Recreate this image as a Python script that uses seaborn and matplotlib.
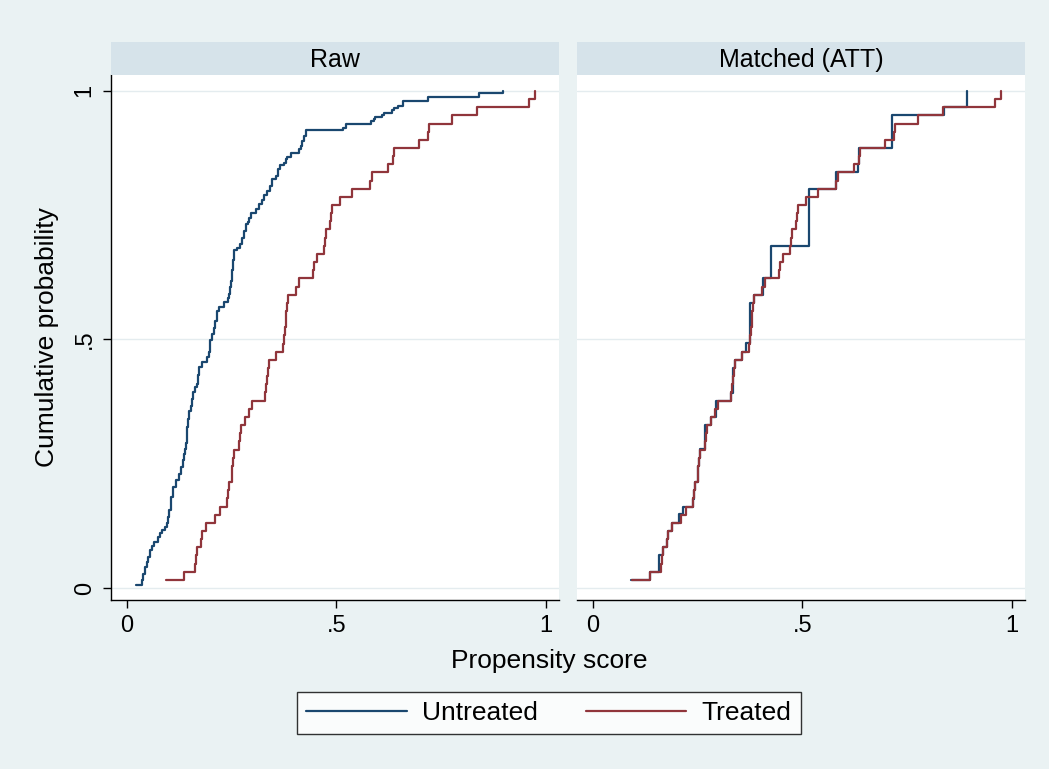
import numpy as np
import pandas as pd
import matplotlib
matplotlib.use("Agg")
import matplotlib.pyplot as plt
import seaborn as sns

# ---------------- data ----------------
panels = ["Raw", "Matched (ATT)"]
series = ["Untreated", "Treated"]
x_ticks = [0, 0.5, 1]
x_ticklabels = ["0", ".5", "1"]
y_ticks = [0, 0.5, 1]
y_ticklabels = ["0", ".5", "1"]

# propensity scores of the 61 treated units
treated_ps = [0.093, 0.138, 0.163, 0.1655, 0.167, 0.178, 0.181, 0.1885, 0.210, 0.223,
              0.239, 0.242, 0.245, 0.2505, 0.2515, 0.253, 0.256, 0.268, 0.2705, 0.272,
              0.2816, 0.292, 0.300, 0.3294, 0.3317, 0.3357, 0.3373, 0.3397, 0.3572, 0.3739,
              0.3765, 0.3779, 0.3795, 0.3811, 0.3827, 0.3858, 0.4033, 0.4113, 0.4455, 0.4471,
              0.4551, 0.4718, 0.4733, 0.4749, 0.4853, 0.4877, 0.4909, 0.5092, 0.5386, 0.5807,
              0.5847, 0.6237, 0.6341, 0.6380, 0.6977, 0.7192, 0.7208, 0.7757, 0.8353, 0.9602,
              0.9745]

# raw untreated cumulative distribution (score, cumulative probability)
raw_untreated_ps = [0.022, 0.036, 0.040, 0.044, 0.048, 0.052, 0.057, 0.061, 0.065, 0.076,
                    0.080, 0.0835, 0.0915, 0.0955, 0.099, 0.102, 0.105, 0.107, 0.111, 0.119,
                    0.126, 0.131, 0.134, 0.137, 0.140, 0.141, 0.143, 0.145, 0.147, 0.149,
                    0.154, 0.157, 0.159, 0.163, 0.167, 0.170, 0.1725, 0.181, 0.193, 0.196,
                    0.198, 0.200, 0.2045, 0.208, 0.212, 0.2165, 0.220, 0.232, 0.242, 0.244,
                    0.246, 0.248, 0.252, 0.254, 0.256, 0.264, 0.270, 0.276, 0.280, 0.284,
                    0.290, 0.293, 0.296, 0.308, 0.316, 0.322, 0.328, 0.336, 0.341, 0.348,
                    0.356, 0.360, 0.366, 0.3755, 0.3795, 0.3835, 0.391, 0.411, 0.415, 0.419,
                    0.423, 0.429, 0.517, 0.5227, 0.584, 0.589, 0.592, 0.610, 0.613, 0.634,
                    0.638, 0.646, 0.660, 0.719, 0.841, 0.897]
raw_untreated_cum = [0.007, 0.016, 0.028, 0.043, 0.052, 0.063, 0.076, 0.085, 0.093, 0.102,
                     0.110, 0.116, 0.123, 0.130, 0.143, 0.157, 0.170, 0.183, 0.203, 0.217,
                     0.230, 0.244, 0.257, 0.270, 0.280, 0.291, 0.307, 0.324, 0.341, 0.357,
                     0.367, 0.381, 0.394, 0.404, 0.411, 0.428, 0.444, 0.454, 0.464, 0.474,
                     0.486, 0.498, 0.511, 0.524, 0.538, 0.558, 0.565, 0.575, 0.584, 0.592,
                     0.605, 0.618, 0.639, 0.660, 0.679, 0.684, 0.692, 0.705, 0.719, 0.732,
                     0.736, 0.745, 0.754, 0.763, 0.772, 0.781, 0.790, 0.799, 0.809, 0.823,
                     0.829, 0.843, 0.850, 0.856, 0.863, 0.867, 0.876, 0.883, 0.890, 0.900,
                     0.910, 0.921, 0.926, 0.934, 0.939, 0.943, 0.948, 0.952, 0.955, 0.961,
                     0.966, 0.970, 0.980, 0.988, 0.995, 1.000]

# matched (ATT-weighted) untreated cumulative distribution
matched_untreated_ps = [0.092, 0.138, 0.1595, 0.167, 0.178, 0.181, 0.1885, 0.207, 0.2167, 0.2389,
                        0.2418, 0.245, 0.251, 0.253, 0.256, 0.269, 0.2816, 0.2944, 0.3294, 0.334,
                        0.3397, 0.3572, 0.366, 0.3746, 0.3858, 0.4067, 0.4254, 0.5167, 0.580, 0.6317,
                        0.6357, 0.715, 0.838, 0.8937]
matched_untreated_cum = [0.016, 0.033, 0.066, 0.082, 0.098, 0.115, 0.131, 0.148, 0.164, 0.180,
                         0.197, 0.213, 0.246, 0.262, 0.279, 0.328, 0.344, 0.377, 0.393, 0.443,
                         0.459, 0.475, 0.492, 0.574, 0.590, 0.623, 0.689, 0.803, 0.836, 0.852,
                         0.885, 0.951, 0.967, 1.000]

# ---------------- build tidy table ----------------
t_sorted = np.sort(np.asarray(treated_ps))
t_cum = np.arange(1, len(t_sorted) + 1) / len(t_sorted)   # empirical CDF

frames = [
    pd.DataFrame({"panel": panels[0], "group": series[0], "ps": raw_untreated_ps, "cum": raw_untreated_cum}),
    pd.DataFrame({"panel": panels[0], "group": series[1], "ps": t_sorted, "cum": t_cum}),
    pd.DataFrame({"panel": panels[1], "group": series[0], "ps": matched_untreated_ps, "cum": matched_untreated_cum}),
    pd.DataFrame({"panel": panels[1], "group": series[1], "ps": t_sorted, "cum": t_cum}),
]
df = pd.concat(frames, ignore_index=True)

# ---------------- styling ----------------
W, H = 1049, 769
BG = "#EAF2F3"
STRIP = "#D6E3EA"
GRID = "#E4ECEF"
palette = {"Untreated": "#1A476F", "Treated": "#90353B"}
FONT = ["Liberation Sans", "DejaVu Sans"]

sns.set_style("white")
plt.rcParams["font.family"] = FONT
plt.rcParams["text.color"] = "black"
plt.rcParams["axes.labelcolor"] = "black"
plt.rcParams["xtick.color"] = "black"
plt.rcParams["ytick.color"] = "black"

fig = plt.figure(figsize=(W / 100, H / 100), dpi=100)
fig.patch.set_facecolor(BG)

def fx(px):
    return px / W

def fy(py):
    return 1 - py / H

plot_top, plot_bot = 75, 600
strip_top = 42
panel_x = [(111, 559), (577, 1025)]
xlim = (-0.037, 1.031)
ylim = (-0.024, 1.032)

for i, (name, (x0, x1)) in enumerate(zip(panels, panel_x)):
    ax = fig.add_axes([fx(x0), fy(plot_bot), fx(x1 - x0), (plot_bot - plot_top) / H])
    ax.set_facecolor("white")
    sub = df[df["panel"] == name]
    for g in series:
        d = sub[sub["group"] == g]
        sns.lineplot(data=d, x="ps", y="cum", ax=ax, color=palette[g], lw=1.6,
                     drawstyle="steps-post", estimator=None, sort=False, legend=False)
    ax.set_xlim(*xlim)
    ax.set_ylim(*ylim)
    for yv in y_ticks:
        ax.axhline(yv, color=GRID, lw=1.0, zorder=0)
    ax.set_xticks(x_ticks)
    ax.set_xticklabels(x_ticklabels)
    ax.set_xlabel("")
    ax.set_ylabel("")
    ax.tick_params(axis="x", direction="out", length=6, width=1, colors="black",
                   labelsize=17, pad=5, bottom=True)
    for s in ["top", "right"]:
        ax.spines[s].set_visible(False)
    ax.spines["bottom"].set_color("black")
    ax.spines["bottom"].set_linewidth(1.0)
    if i == 0:
        ax.set_yticks(y_ticks)
        ax.set_yticklabels(y_ticklabels, rotation=90, va="center")
        ax.tick_params(axis="y", direction="out", length=6, width=1, colors="black",
                       labelsize=17, pad=5, left=True)
        ax.spines["left"].set_color("black")
        ax.spines["left"].set_linewidth(1.0)
    else:
        ax.set_yticks([])
        ax.spines["left"].set_visible(False)
    # strip title
    sax = fig.add_axes([fx(x0), fy(plot_top), fx(x1 - x0), (plot_top - strip_top) / H])
    sax.set_facecolor(STRIP)
    sax.set_xticks([])
    sax.set_yticks([])
    for s in sax.spines.values():
        s.set_visible(False)
    sax.text(0.5, 0.45, name, ha="center", va="center", fontsize=18, color="black",
             transform=sax.transAxes)

fig.text(fx(47), fy(337), "Cumulative probability", rotation=90, ha="center", va="center",
         fontsize=19, color="black")
fig.text(fx(549), fy(661), "Propensity score", ha="center", va="center", fontsize=19, color="black")

handles = [plt.Line2D([], [], color=palette[g], lw=1.6) for g in series]
leg = fig.legend(handles, series, loc="center", bbox_to_anchor=(fx(549), fy(713)), ncol=2,
                 frameon=True, fancybox=False, fontsize=19, handlelength=3.8,
                 handletextpad=0.6, columnspacing=1.8, borderpad=0.35, borderaxespad=0,
                 labelcolor="black")
leg.get_frame().set_edgecolor("black")
leg.get_frame().set_linewidth(1.0)
leg.get_frame().set_facecolor("white")

fig.savefig("out.png", dpi=100, facecolor=BG)
